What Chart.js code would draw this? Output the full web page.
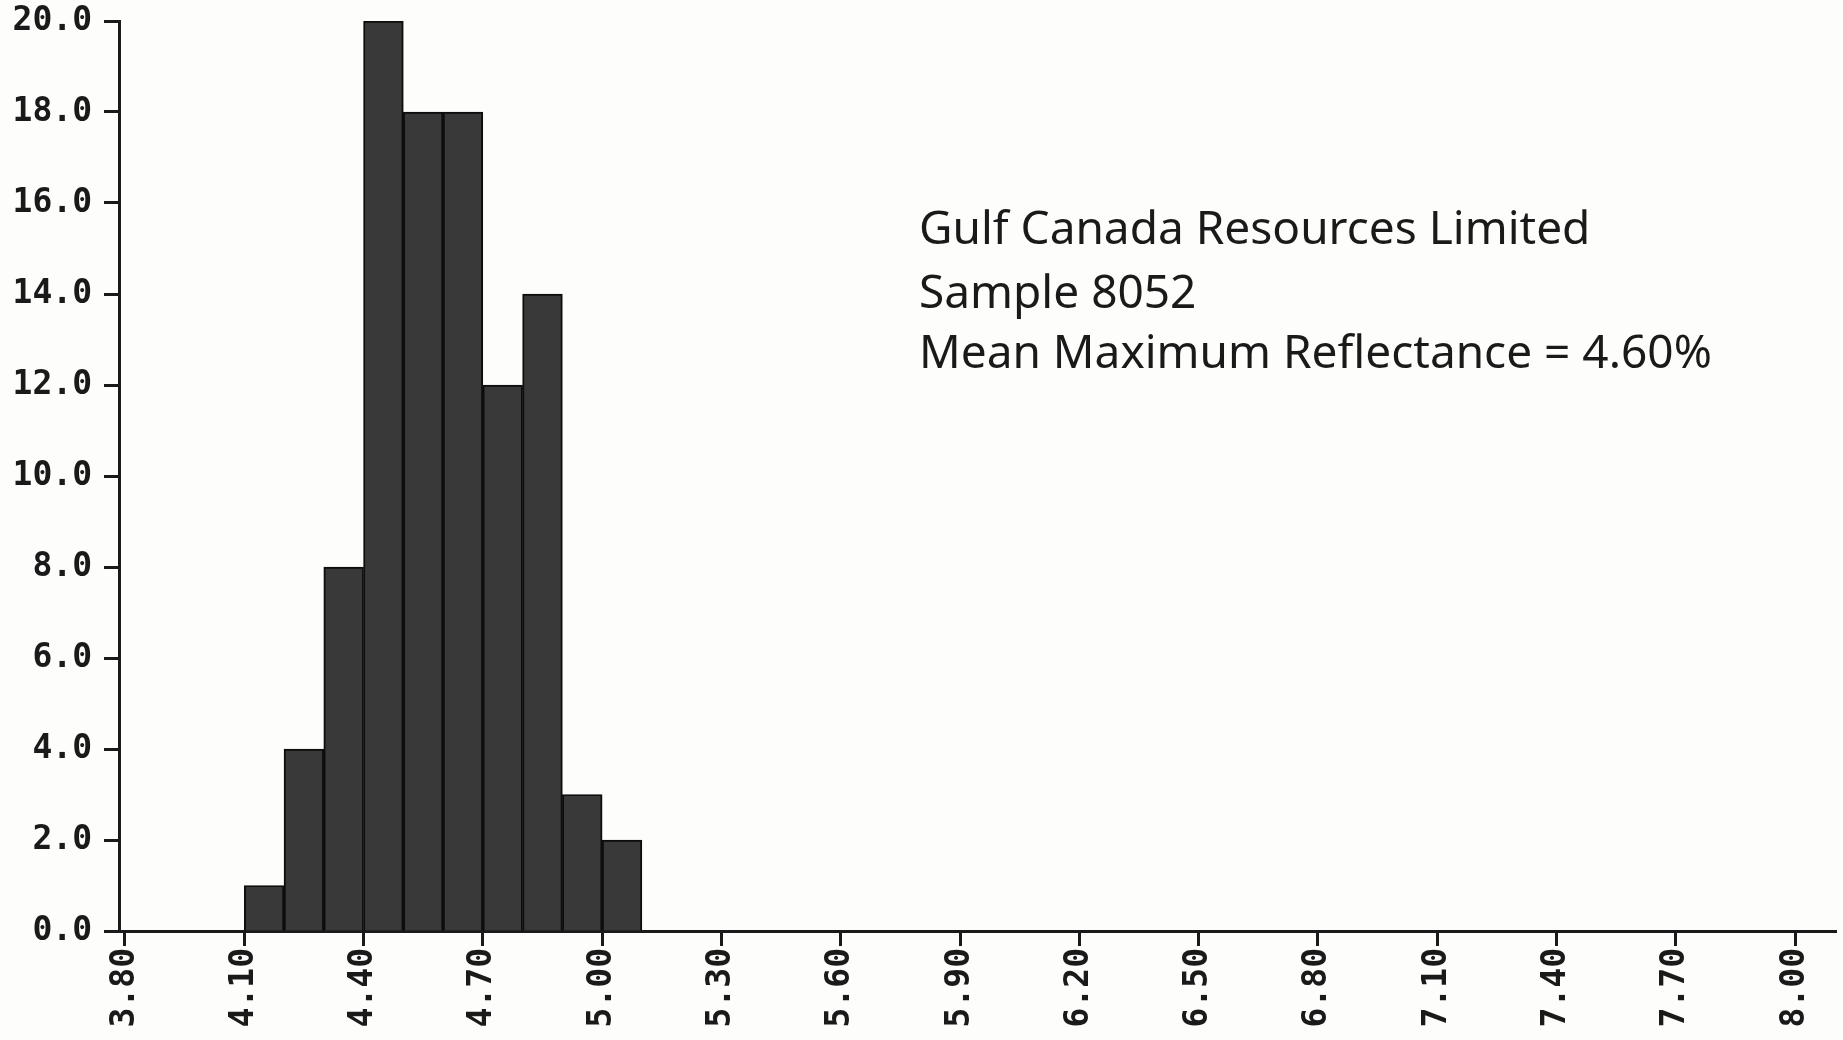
<!DOCTYPE html>
<html>
<head>
<meta charset="utf-8">
<script src="https://cdn.jsdelivr.net/npm/chart.js@4.4.1/dist/chart.umd.min.js"></script>
<style>
  html, body { margin: 0; padding: 0; background: #fdfdfb; }
  #wrap { width: 1843px; height: 1040px; position: relative; }
</style>
</head>
<body>
<div id="wrap"><canvas id="chart-reflectance"></canvas></div>
<script>
// ── data ──
const binCenters = [4.15, 4.25, 4.35, 4.45, 4.55, 4.65, 4.75, 4.85, 4.95, 5.05];
const counts     = [1, 4, 8, 20, 18, 18, 12, 14, 3, 2];
const xTickLabels = ['3.80', '4.10', '4.40', '4.70', '5.00', '5.30', '5.60',
                     '5.90', '6.20', '6.50', '6.80', '7.10', '7.40', '7.70', '8.00'];
const noteLines = [
  'Gulf Canada Resources Limited',
  'Sample 8052',
  'Mean Maximum Reflectance = 4.60%',
];

const INK = '#1a1a1a';
const tickFont = { family: '"DejaVu Sans Mono", "Liberation Mono", monospace', size: 33, weight: 'bold' };

// ── caption in the upper right ──
const notesPlugin = {
  id: 'notes',
  afterDraw(chart) {
    const c = chart.ctx;
    c.save();
    c.fillStyle = INK;
    c.font = '46px "Noto Sans", sans-serif';
    c.textAlign = 'left';
    c.textBaseline = 'alphabetic';
    const baselines = [244, 308, 368];
    noteLines.forEach((t, i) => c.fillText(t, 919, baselines[i]));
    c.restore();
  }
};

new Chart(document.getElementById('chart-reflectance'), {
  type: 'bar',
  data: {
    datasets: [{
      data: binCenters.map((x, i) => ({ x, y: counts[i] })),
      backgroundColor: '#393939',
      borderColor: '#0d0d0d',
      borderWidth: 2,
      barPercentage: 1.0,
      categoryPercentage: 1.0,
    }],
  },
  options: {
    responsive: true, maintainAspectRatio: false,
    animation: false,
    layout: { padding: { top: 21, right: 7, left: 0, bottom: 0 } },
    plugins: { legend: { display: false }, tooltip: { enabled: false } },
    scales: {
      x: {
        type: 'linear',
        offset: false,
        min: 3.785, max: 8.103,
        afterBuildTicks: s => { s.ticks = xTickLabels.map(l => ({ value: parseFloat(l) })); },
        afterFit: s => { s.height = 109; },
        border: { display: true, color: INK, width: 3 },
        grid: { display: true, offset: false, drawOnChartArea: false, drawTicks: true, tickLength: 15, tickWidth: 3, tickColor: INK },
        ticks: {
          autoSkip: false, minRotation: 90, maxRotation: 90, padding: 2,
          color: INK, font: tickFont,
          callback: v => v.toFixed(2),
        },
      },
      y: {
        min: 0, max: 20,
        afterFit: s => { s.width = 119; s.paddingTop = 0; s.paddingBottom = 0; },
        border: { display: true, color: INK, width: 3 },
        grid: { display: true, drawOnChartArea: false, drawTicks: true, tickLength: 15, tickWidth: 3, tickColor: INK },
        ticks: {
          stepSize: 2, padding: 12,
          color: INK, font: tickFont,
          callback: v => v.toFixed(1),
        },
      },
    },
  },
  plugins: [notesPlugin],
});
</script>
</body>
</html>
